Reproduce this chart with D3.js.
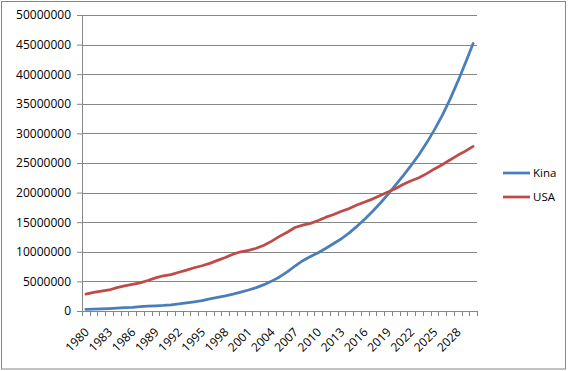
<!DOCTYPE html>
<html>
<head>
<meta charset="utf-8">
<script src="https://cdn.jsdelivr.net/npm/d3@7"></script>
<style>
  body { margin: 0; background: #fff; }
  svg text { font-family: 'Open Sans', sans-serif; fill: #000; }
</style>
</head>
<body>
<svg id="chart" width="571" height="371"></svg>
<script>
const years = [
  1980, 1981, 1982, 1983, 1984, 1985, 1986, 1987, 1988, 1989,
  1990, 1991, 1992, 1993, 1994, 1995, 1996, 1997, 1998, 1999,
  2000, 2001, 2002, 2003, 2004, 2005, 2006, 2007, 2008, 2009,
  2010, 2011, 2012, 2013, 2014, 2015, 2016, 2017, 2018, 2019,
  2020, 2021, 2022, 2023, 2024, 2025, 2026, 2027, 2028, 2029, 2030
]

// values in millions
const kina = [
  0.28, 0.32, 0.36, 0.42, 0.50, 0.57, 0.63, 0.72, 0.82, 0.88,
  0.95, 1.05, 1.20, 1.38, 1.56, 1.75, 2.05, 2.30, 2.55, 2.85,
  3.20, 3.55, 3.95, 4.45, 5.05, 5.75, 6.60, 7.60, 8.50, 9.20,
  9.85, 10.6, 11.4, 12.2, 13.2, 14.3, 15.5, 16.8, 18.2, 19.7,
  21.3, 22.9, 24.6, 26.4, 28.4, 30.6, 33.0, 35.7, 38.7, 41.9, 45.2
]
const usa = [
  2.86, 3.15, 3.35, 3.55, 3.95, 4.25, 4.50, 4.75, 5.15, 5.60,
  5.95, 6.15, 6.55, 6.90, 7.30, 7.65, 8.05, 8.55, 9.05, 9.60,
  10.0, 10.25, 10.6, 11.1, 11.8, 12.6, 13.3, 14.1, 14.5, 14.8,
  15.3, 15.85, 16.3, 16.85, 17.3, 17.9, 18.4, 18.9, 19.5, 20.1,
  20.7, 21.4, 22.0, 22.5, 23.2, 24.0, 24.7, 25.5, 26.3, 27.0, 27.8
]

const yTicks = [0, 5000000, 10000000, 15000000, 20000000, 25000000,
  30000000, 35000000, 40000000, 45000000, 50000000]
const labelYears = [1980, 1983, 1986, 1989, 1992, 1995, 1998, 2001,
  2004, 2007, 2010, 2013, 2016, 2019, 2022, 2025, 2028]

const series = [
  { name: 'Kina', values: kina, color: '#4a7ebb' },
  { name: 'USA', values: usa, color: '#be4b48' }
]

const svg = d3.select('#chart')
const grey = '#868686'
const plot = { left: 82, right: 477, top: 15, bottom: 311 }

svg.append('rect')
  .attr('x', 1.5).attr('y', 1.5).attr('width', 564).attr('height', 367.5)
  .attr('fill', '#fff').attr('stroke', grey)

const x = d3.scaleBand().domain(years).range([plot.left, plot.right])
const y = d3.scaleLinear().domain([0, 50000000]).range([plot.bottom, plot.top])

// gridlines + y axis
const yAxis = d3.axisLeft(y).tickValues(yTicks).tickSize(5).tickPadding(6)
  .tickFormat(d3.format('d'))
const yg = svg.append('g').attr('transform', `translate(${plot.left},0)`).call(yAxis)
yg.select('.domain').remove()
yg.selectAll('.tick line').attr('stroke', grey)
yg.selectAll('.tick text').attr('font-size', 12).attr('fill', '#000')

svg.append('g').selectAll('line').data(yTicks).join('line')
  .attr('x1', plot.left).attr('x2', plot.right)
  .attr('y1', d => Math.round(y(d)) + 0.5).attr('y2', d => Math.round(y(d)) + 0.5)
  .attr('stroke', grey)

svg.append('line')
  .attr('x1', plot.left + 0.5).attr('x2', plot.left + 0.5)
  .attr('y1', plot.top).attr('y2', plot.bottom + 5)
  .attr('stroke', grey)

// category ticks sit between categories
const bounds = years.map(d => x(d)).concat([plot.right])
svg.append('g').selectAll('line').data(bounds).join('line')
  .attr('x1', d => Math.round(d) + 0.5).attr('x2', d => Math.round(d) + 0.5)
  .attr('y1', plot.bottom).attr('y2', plot.bottom + 5)
  .attr('stroke', grey)

const cx = d => x(d) + x.bandwidth() / 2
svg.append('g').selectAll('text').data(labelYears).join('text')
  .attr('transform', d => `translate(${cx(d) + 1},${plot.bottom + 19}) rotate(-45)`)
  .attr('text-anchor', 'end')
  .attr('dy', '0.35em')
  .attr('font-size', 12)
  .text(d => d)

const line = d3.line()
  .x((d, i) => cx(years[i]))
  .y(d => y(d * 1000000))

svg.append('g').selectAll('path').data(series).join('path')
  .attr('d', d => line(d.values))
  .attr('fill', 'none')
  .attr('stroke', d => d.color)
  .attr('stroke-width', 2.75)
  .attr('stroke-linejoin', 'round')
  .attr('stroke-linecap', 'round')

// legend
const lg = svg.append('g').selectAll('g').data(series).join('g')
  .attr('transform', (d, i) => `translate(503,${173 + i * 24})`)
lg.append('line').attr('x1', 0).attr('x2', 27)
  .attr('stroke', d => d.color).attr('stroke-width', 2.75)
lg.append('text').attr('x', 30).attr('dy', '0.35em')
  .attr('font-size', 11.5)
  .text(d => d.name)
</script>
</body>
</html>
